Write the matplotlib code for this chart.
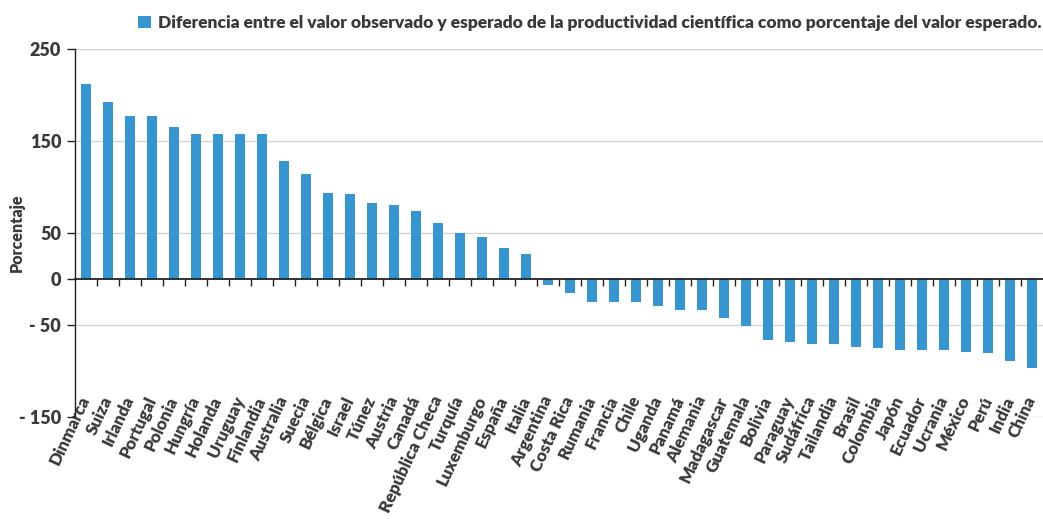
import matplotlib
matplotlib.use("Agg")
import matplotlib.pyplot as plt
import numpy as np
from matplotlib.ticker import FixedLocator

plt.rcParams['font.family'] = ['Lato', 'DejaVu Sans']

countries = ["Dinmarca", "Suiza", "Irlanda", "Portugal", "Polonia", "Hungría", "Holanda",
             "Uruguay", "Finlandia", "Australia", "Suecia", "Bélgica", "Israel", "Túnez",
             "Austria", "Canadá", "República Checa", "Turquía", "Luxemburgo", "España",
             "Italia", "Argentina", "Costa Rica", "Rumania", "Francia", "Chile", "Uganda",
             "Panamá", "Alemania", "Madagascar", "Guatemala", "Bolivia", "Paraguay",
             "Sudáfrica", "Tailandia", "Brasil", "Colombia", "Japón", "Ecuador", "Ucrania",
             "México", "Perú", "India", "China"]
values = [212, 193, 177, 177, 165, 158, 158, 158, 158, 128, 114, 94, 93, 83, 80, 74,
          61, 50, 46, 34, 27, -7, -15, -25, -25, -25, -30, -34, -34, -43, -51, -67,
          -69, -71, -71, -74, -75, -77, -77, -77, -80, -81, -89, -97]
yticks = [250, 150, 50, 0, -50, -150]
ytick_labels = ["250", "150", "50", "0", "- 50", "- 150"]
legend_label = ("Diferencia entre el valor observado y esperado de la productividad "
                "científica como porcentaje del valor esperado.")

bar_color = "#3796CF"
text_color = "#3a3a3a"

fig = plt.figure(figsize=(10.43, 5.19), dpi=100)
ax = fig.add_axes([75/1043, 1 - 416.7/519, 1 - 75/1043, (416.7 - 49.3)/519])

x = np.arange(len(countries))
ax.bar(x, values, width=0.46, color=bar_color, label=legend_label, zorder=2)

ax.set_xlim(-0.5, len(countries) - 0.5)
ax.set_ylim(-150, 250)

ax.set_yticks(yticks)
ax.set_yticklabels(ytick_labels, fontsize=13, fontweight='heavy', color=text_color)
for t in yticks:
    if t != 0:
        ax.axhline(t, color="#d3d3d3", lw=1, zorder=0)

for s in ['top', 'right']:
    ax.spines[s].set_visible(False)
ax.spines['left'].set_color('#222222')
ax.spines['bottom'].set_position(('data', 0))
ax.spines['bottom'].set_color('#222222')
ax.spines['bottom'].set_linewidth(1.3)
ax.spines['left'].set_linewidth(1.0)

ax.tick_params(axis='y', length=6, width=1, color='#222222', pad=4)
ax.set_xticks(x)
ax.set_xticklabels(countries, fontsize=12.3, fontweight='heavy', color=text_color)
ax.xaxis.set_minor_locator(FixedLocator(x[:-1] + 0.5))
ax.tick_params(axis='x', which='major', length=0, pad=85)
ax.tick_params(axis='x', which='minor', length=5, width=1, color='#222222', direction='out')
for lbl in ax.get_xticklabels():
    lbl.set_rotation(65)
    lbl.set_ha('right')
    lbl.set_va('center')
    lbl.set_rotation_mode('anchor')

ax.set_ylabel("Porcentaje", fontsize=11.5, fontweight='heavy', color=text_color)
ax.yaxis.set_label_coords(-0.052, 0.5)

leg = fig.legend(loc='center right', bbox_to_anchor=(0.999, 1 - 23/519), frameon=False,
                 handlelength=0.75, handleheight=0.75, handletextpad=0.45,
                 prop={'size': 12.5, 'weight': 'heavy'}, borderaxespad=0, borderpad=0)
for t in leg.get_texts():
    t.set_color(text_color)

fig.savefig("out.png", dpi=100)
